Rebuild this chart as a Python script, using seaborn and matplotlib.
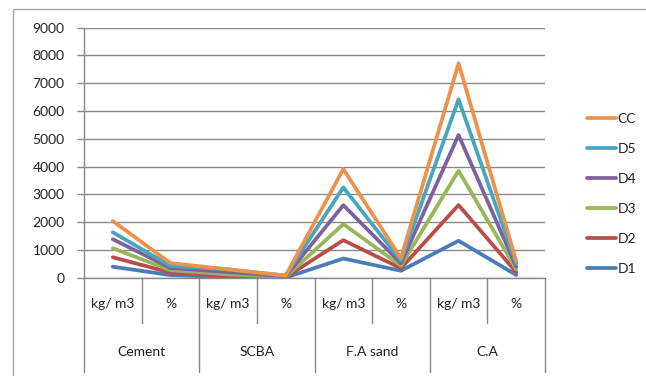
import numpy as np
import pandas as pd
import seaborn as sns
import matplotlib
matplotlib.use("Agg")
import matplotlib.pyplot as plt
from matplotlib.patches import Rectangle
from matplotlib.lines import Line2D
from matplotlib.transforms import blended_transform_factory

# Mix-proportion quantities, one value per category and mix (stacked chart)
groups = ["Cement", "SCBA", "F.A sand", "C.A"]
units = ["kg/ m3", "%"]
categories = [f"{g}|{u}" for g in groups for u in units]

series = ["D1", "D2", "D3", "D4", "D5", "CC"]
d1 = [395, 95, 20, 5, 690, 250, 1330, 100]
d2 = [340, 90, 40, 10, 660, 90, 1285, 100]
d3 = [325, 85, 60, 15, 580, 90, 1235, 100]
d4 = [325, 80, 80, 20, 680, 90, 1285, 100]
d5 = [250, 75, 100, 25, 640, 90, 1285, 100]
cc = [405, 100, 0, 0, 660, 90, 1295, 100]
values = [d1, d2, d3, d4, d5, cc]

colors = {"D1": "#4A7DB8", "D2": "#BA4D49", "D3": "#97B757",
          "D4": "#7D619E", "D5": "#46A6C0", "CC": "#EE914C"}

# Stacked line chart: each series is drawn on top of the ones before it
stacked = np.cumsum(np.array(values, dtype=float), axis=0)
rows = []
for s, line in zip(series, stacked):
    for i, v in enumerate(line):
        rows.append({"series": s, "pos": i, "value": v})
df = pd.DataFrame(rows)

sns.set_theme(style="white")
plt.rcParams["font.family"] = ["Lato", "DejaVu Sans"]

W, H = 646, 376
fig = plt.figure(figsize=(W / 100, H / 100), dpi=100)
x0, x1, y0, y1 = 84, 545, 27.7, 277.7
ax = fig.add_axes([x0 / W, 1 - y1 / H, (x1 - x0) / W, (y1 - y0) / H])

# Outer chart border
fig.patches.append(Rectangle((13 / W, 1 - 700 / H), 700 / W, (700 - 9) / H,
                             transform=fig.transFigure, fill=False,
                             edgecolor="#a6a6a6", lw=1.0, zorder=0))

sns.lineplot(data=df, x="pos", y="value", hue="series", hue_order=series,
             palette=colors, sort=False, lw=2.7, ax=ax, legend=False)

grid = "#888888"
ax.set_xlim(-0.5, len(categories) - 0.5)
ax.set_ylim(0, 9000)
ax.set_yticks(np.arange(0, 9001, 1000))
ax.yaxis.grid(True, color=grid, lw=1.0)
ax.set_axisbelow(True)
ax.tick_params(axis="y", direction="out", length=5, width=1, color=grid,
               pad=9, labelsize=10, labelcolor="#222222", left=True)
ax.set_xticks([])
ax.set_xlabel("")
ax.set_ylabel("")
for side in ["top", "right"]:
    ax.spines[side].set_visible(False)
ax.spines["left"].set_color(grid)
ax.spines["bottom"].set_color(grid)
ax.spines["left"].set_linewidth(1)
ax.spines["bottom"].set_linewidth(1)

# Two-level category axis: separators and labels below the plot
tr = blended_transform_factory(ax.transData, ax.transAxes)
ph = y1 - y0
def ax_y(py):
    return (y1 - py) / ph

for i in range(len(categories) + 1):
    xb = i - 0.5
    end = 372 if i % 2 == 0 else 323
    ax.plot([xb, xb], [0, ax_y(end)], transform=tr, color=grid, lw=1,
            clip_on=False)

for i, c in enumerate(categories):
    ax.text(i, ax_y(304), c.split("|")[1], transform=tr, ha="center",
            va="center", fontsize=10, color="#222222")
for g, name in enumerate(groups):
    ax.text(2 * g + 0.5, ax_y(352), name, transform=tr, ha="center",
            va="center", fontsize=10, color="#222222")

# Legend, top series first
handles = [Line2D([0], [0], color=colors[s], lw=2.7) for s in series[::-1]]
fig.legend(handles, series[::-1], loc="center left",
           bbox_to_anchor=(574 / W, 1 - 194 / H), frameon=False,
           fontsize=10, handlelength=2.1, handletextpad=0.15,
           labelspacing=1.3, labelcolor="#222222")

fig.savefig("out.png", dpi=100)
